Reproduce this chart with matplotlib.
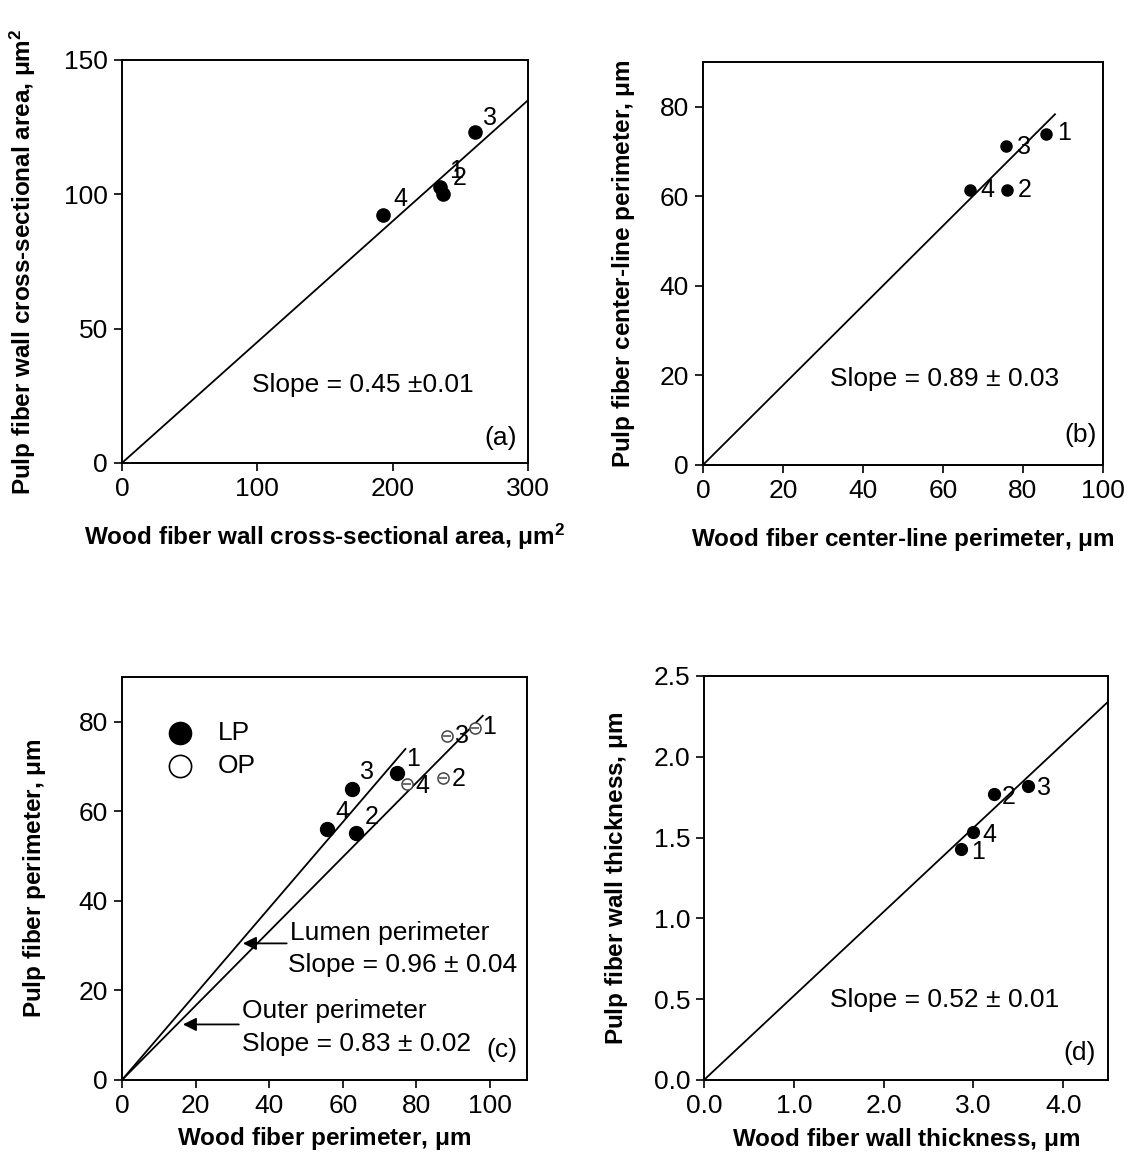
import matplotlib.pyplot as plt
import numpy as np

plt.rcParams['font.family'] = ['Liberation Sans', 'DejaVu Sans']
plt.rcParams['mathtext.fontset'] = 'stix'
plt.rcParams['mathtext.default'] = 'regular'

# (a) wall cross-sectional area, um^2
area_wood = [235, 237.5, 261, 193]
area_pulp = [102.8, 100.1, 123.2, 92.3]
area_ids = ['1', '2', '3', '4']
area_slope = 0.45
area_xmax = 300

# (b) center-line perimeter, um
cl_wood = [85.7, 75.9, 75.7, 66.7]
cl_pulp = [73.9, 61.5, 71.3, 61.4]
cl_ids = ['1', '2', '3', '4']
cl_slope = 0.89
cl_xmax = 88

# (c) lumen (LP) and outer (OP) perimeters, um
lp_wood = [74.7, 63.6, 62.5, 55.7]
lp_pulp = [68.6, 55.2, 65.0, 56.1]
op_wood = [95.9, 87.2, 88.3, 77.4]
op_pulp = [78.7, 67.5, 76.9, 66.1]
per_ids = ['1', '2', '3', '4']
lp_slope = 0.96
op_slope = 0.83
lp_xmax = 77
op_xmax = 98

# (d) wall thickness, um
th_wood = [2.86, 3.23, 3.61, 3.0]
th_pulp = [1.43, 1.77, 1.82, 1.535]
th_ids = ['1', '2', '3', '4']
th_slope = 0.52
th_xmax = 4.5

# label offsets (pixels) for the numbered points
off_a = [(9, 16), (9, 16), (8, 14), (10, 16)]
off_b = [(11, 1), (11, 0), (11, -1), (11, 0)]
off_lp = [(9, 14), (9, 16), (8, 17), (8, 17)]
off_op = [(7, 1), (9, -1), (8, 0), (8, -2)]
off_d = [(10, -3), (8, -3), (9, -2), (9, -3)]

TFS = 19    # tick labels
NFS = 18    # point numbers
TXT = 19    # notes inside the panels
LFS = 17.5  # axis titles
UM = r'$\mu$m'

fig = plt.figure(figsize=(11.43, 11.65), dpi=100)
ax_a = fig.add_axes([0.1067, 0.6026, 0.3552, 0.3459])
ax_b = fig.add_axes([0.6150, 0.6009, 0.3500, 0.3459])
ax_c = fig.add_axes([0.1067, 0.0730, 0.3543, 0.3459])
ax_d = fig.add_axes([0.6159, 0.0730, 0.3535, 0.3468])

for ax in (ax_a, ax_b, ax_c, ax_d):
    for s in ax.spines.values():
        s.set_linewidth(1.4)
    ax.tick_params(direction='out', length=6, width=1.2, labelsize=TFS, pad=4)


def label_pts(ax, xs, ys, ids, offs):
    for x, y, t, o in zip(xs, ys, ids, offs):
        ax.annotate(t, (x, y), xytext=o, textcoords='offset pixels',
                    fontsize=NFS, ha='left', va='center')


def fit_line(ax, slope, xmax):
    xx = np.array([0, xmax])
    ax.plot(xx, slope * xx, color='black', lw=1.3)


def axis_titles(ax, xl, yl, xpad, ypad):
    ax.set_xlabel(xl, fontsize=LFS, fontweight='bold', labelpad=xpad)
    ax.set_ylabel(yl, fontsize=LFS, fontweight='bold', labelpad=ypad)


# (a)
fit_line(ax_a, area_slope, area_xmax)
ax_a.plot(area_wood, area_pulp, 'o', color='black', ms=9.5)
label_pts(ax_a, area_wood, area_pulp, area_ids, off_a)
ax_a.set_xlim(0, 300)
ax_a.set_ylim(0, 150)
ax_a.set_xticks([0, 100, 200, 300])
ax_a.set_yticks([0, 50, 100, 150])
ax_a.text(95.9, 29.0, 'Slope = 0.45 \u00b10.01', fontsize=TXT, va='center')
ax_a.text(280, 9.2, '(a)', fontsize=TXT, ha='center', va='center')
axis_titles(ax_a, 'Wood fiber wall cross-sectional area, ' + UM + '$^2$',
            'Pulp fiber wall cross-sectional area, ' + UM + '$^2$', 15, 19)

# (b)
fit_line(ax_b, cl_slope, cl_xmax)
ax_b.plot(cl_wood, cl_pulp, 'o', color='black', ms=8)
label_pts(ax_b, cl_wood, cl_pulp, cl_ids, off_b)
ax_b.set_xlim(0, 100)
ax_b.set_ylim(0, 90)
ax_b.set_xticks([0, 20, 40, 60, 80, 100])
ax_b.set_yticks([0, 20, 40, 60, 80])
ax_b.text(31.8, 19.3, 'Slope = 0.89 \u00b1 0.03', fontsize=TXT, va='center')
ax_b.text(94.5, 6.7, '(b)', fontsize=TXT, ha='center', va='center')
axis_titles(ax_b, 'Wood fiber center-line perimeter, ' + UM,
            'Pulp fiber center-line perimeter, ' + UM, 17, 16)

# (c)
fit_line(ax_c, lp_slope, lp_xmax)
fit_line(ax_c, op_slope, op_xmax)
ax_c.plot(lp_wood, lp_pulp, 'o', color='black', ms=10)
ax_c.plot(op_wood, op_pulp, 'o', mfc='white', mec='#444444', mew=1.1, ms=8)
ax_c.plot(op_wood, op_pulp, '_', color='#444444', ms=6, mew=1.1)
label_pts(ax_c, lp_wood, lp_pulp, per_ids, off_lp)
label_pts(ax_c, op_wood, op_pulp, per_ids, off_op)
ax_c.plot([15.8], [77.5], 'o', color='black', ms=16)
ax_c.plot([15.8], [70.2], 'o', mfc='white', mec='black', mew=1.2, ms=16)
ax_c.text(26, 77.5, 'LP', fontsize=TXT, va='center')
ax_c.text(26, 70.2, 'OP', fontsize=TXT, va='center')
ax_c.annotate('', xy=(32.1, 30.5), xytext=(45.5, 30.5),
              arrowprops=dict(arrowstyle='-|>', color='black', lw=1.3,
                              mutation_scale=20))
ax_c.annotate('', xy=(15.8, 12.4), xytext=(32.5, 12.4),
              arrowprops=dict(arrowstyle='-|>', color='black', lw=1.3,
                              mutation_scale=20))
ax_c.text(45.6, 32.8, 'Lumen perimeter', fontsize=TXT, va='center')
ax_c.text(45.2, 25.7, 'Slope = 0.96 \u00b1 0.04', fontsize=TXT, va='center')
ax_c.text(32.5, 15.3, 'Outer perimeter', fontsize=TXT, va='center')
ax_c.text(32.5, 8.0, 'Slope = 0.83 \u00b1 0.02', fontsize=TXT, va='center')
ax_c.text(103.2, 6.7, '(c)', fontsize=TXT, ha='center', va='center')
ax_c.set_xlim(0, 110)
ax_c.set_ylim(0, 90)
ax_c.set_xticks([0, 20, 40, 60, 80, 100])
ax_c.set_yticks([0, 20, 40, 60, 80])
axis_titles(ax_c, 'Wood fiber perimeter, ' + UM,
            'Pulp fiber perimeter, ' + UM, 5, 22)

# (d)
fit_line(ax_d, th_slope, th_xmax)
ax_d.plot(th_wood, th_pulp, 'o', color='black', ms=8.5)
label_pts(ax_d, th_wood, th_pulp, th_ids, off_d)
ax_d.set_xlim(0, 4.5)
ax_d.set_ylim(0, 2.5)
ax_d.set_xticks([0, 1, 2, 3, 4])
ax_d.set_xticklabels(['0.0', '1.0', '2.0', '3.0', '4.0'])
ax_d.set_yticks([0, 0.5, 1.0, 1.5, 2.0, 2.5])
ax_d.set_yticklabels(['0.0', '0.5', '1.0', '1.5', '2.0', '2.5'])
ax_d.text(1.40, 0.495, 'Slope = 0.52 \u00b1 0.01', fontsize=TXT, va='center')
ax_d.text(4.18, 0.165, '(d)', fontsize=TXT, ha='center', va='center')
axis_titles(ax_d, 'Wood fiber wall thickness, ' + UM,
            'Pulp fiber wall thickness, ' + UM, 6, 17)

fig.savefig('out.png', dpi=100)
